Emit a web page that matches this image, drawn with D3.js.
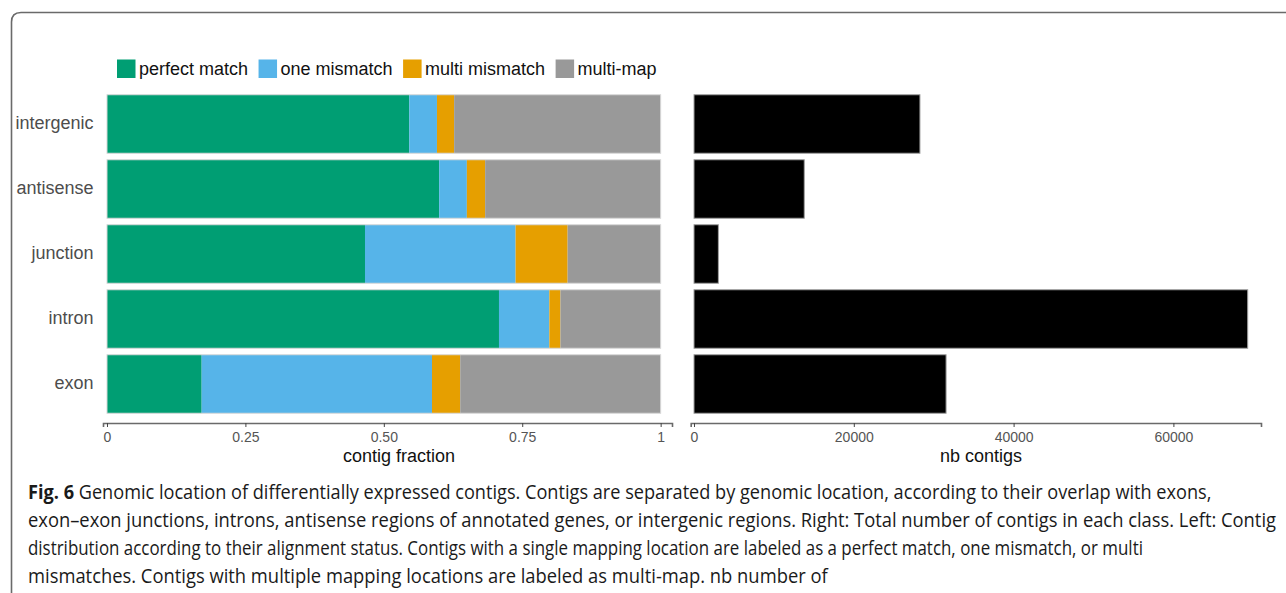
<!DOCTYPE html>
<html>
<head>
<meta charset="utf-8">
<script src="https://cdn.jsdelivr.net/npm/d3@7"></script>
<style>
  html, body { margin: 0; padding: 0; background: #fff; }
  svg { display: block; }
</style>
</head>
<body>
<svg id="chart" width="1286" height="593"></svg>
<script>
// ---------- data ----------
const categories = ["intergenic", "antisense", "junction", "intron", "exon"];
const statusKeys = ["perfect match", "one mismatch", "multi mismatch", "multi-map"];
const perfectMatch  = [0.546, 0.600, 0.466, 0.708, 0.171];
const oneMismatch   = [0.050, 0.050, 0.272, 0.091, 0.416];
const multiMismatch = [0.031, 0.033, 0.094, 0.020, 0.051];
const multiMap      = [0.373, 0.317, 0.168, 0.181, 0.362];
const nbContigs     = [28280, 13800, 3050, 69300, 31550];
const fractionTicks = [0, 0.25, 0.5, 0.75, 1];
const fractionTickLabels = ["0", "0.25", "0.50", "0.75", "1"];
const countTicks = [0, 20000, 40000, 60000];
const statusColors = ["#009E73", "#56B4E9", "#E69F00", "#999999"];
const captionBold = "Fig. 6";
const captionLines = [
  " Genomic location of differentially expressed contigs. Contigs are separated by genomic location, according to their overlap with exons,",
  "exon\u2013exon junctions, introns, antisense regions of annotated genes, or intergenic regions. Right: Total number of contigs in each class. Left: Contig",
  "distribution according to their alignment status. Contigs with a single mapping location are labeled as a perfect match, one mismatch, or multi",
  "mismatches. Contigs with multiple mapping locations are labeled as multi-map. nb number of"
];

// ---------- setup ----------
const svg = d3.select("#chart");
const FONT = "'Liberation Sans', Arial, Helvetica, sans-serif";

// border frame (figure box, open to the right/bottom)
svg.append("path")
  .attr("d", "M11.5,600 L11.5,22 Q11.5,12.5 21,12.5 L1300,12.5")
  .attr("fill", "none").attr("stroke", "#6a6a6a").attr("stroke-width", 1.6);

const rows = categories.map((c, i) => ({
  cat: c,
  "perfect match": perfectMatch[i],
  "one mismatch": oneMismatch[i],
  "multi mismatch": multiMismatch[i],
  "multi-map": multiMap[i],
  count: nbContigs[i]
}));

const y = d3.scaleBand().domain(categories).range([91.5, 416.5])
  .paddingInner(0.1).paddingOuter(0.05);

// left panel: contig fraction
const xL = d3.scaleLinear().domain([-0.0072, 1.0205]).range([103, 672]);
// right panel: nb contigs
const xR = d3.scaleLinear().domain([-413, 70964]).range([690.7, 1261]);

const color = d3.scaleOrdinal().domain(statusKeys).range(statusColors);
const stacked = d3.stack().keys(statusKeys)(rows);

const gL = svg.append("g");
gL.selectAll("g.layer").data(stacked).join("g").attr("class", "layer")
  .attr("fill", d => color(d.key))
  .selectAll("rect").data(d => d).join("rect")
  .attr("x", d => xL(d[0]))
  .attr("width", d => xL(d[1]) - xL(d[0]))
  .attr("y", d => y(d.data.cat))
  .attr("height", y.bandwidth());
// light outline around each stacked bar
gL.selectAll("rect.outline").data(rows).join("rect").attr("class", "outline")
  .attr("x", xL(0)).attr("width", xL(1) - xL(0))
  .attr("y", d => y(d.cat)).attr("height", y.bandwidth())
  .attr("fill", "none").attr("stroke", "#d8d8d8").attr("stroke-width", 1);

// right bars
svg.append("g").selectAll("rect").data(rows).join("rect")
  .attr("x", xR(0))
  .attr("width", d => xR(d.count) - xR(0))
  .attr("y", d => y(d.cat))
  .attr("height", y.bandwidth())
  .attr("fill", "#000").attr("stroke", "#a0a0a0").attr("stroke-width", 1);

// axes
const axisY = 423;
function styleAxis(g) {
  g.select(".domain").attr("stroke", "#6a6a6a").attr("stroke-width", 1.6);
  g.selectAll(".tick line").attr("stroke", "#444").attr("stroke-width", 1);
  g.selectAll(".tick text").attr("fill", "#555").attr("font-family", FONT)
    .attr("font-size", "14px").attr("dy", "0.85em");
}
svg.append("g").attr("transform", `translate(0,${axisY})`)
  .call(d3.axisBottom(xL).tickValues(fractionTicks)
    .tickFormat((d, i) => fractionTickLabels[i]).tickSizeOuter(0).tickSize(4).tickPadding(3))
  .call(styleAxis);
svg.append("g").attr("transform", `translate(0,${axisY})`)
  .call(d3.axisBottom(xR).tickValues(countTicks)
    .tickFormat(d3.format("d")).tickSizeOuter(0).tickSize(4).tickPadding(3))
  .call(styleAxis);

// y category labels
svg.append("g").selectAll("text").data(categories).join("text")
  .attr("x", 93.5)
  .attr("y", d => y(d) + y.bandwidth() / 2)
  .attr("dy", "0.28em")
  .attr("text-anchor", "end")
  .attr("font-family", FONT).attr("font-size", "18px").attr("fill", "#4d4d4d")
  .text(d => d);

// axis titles
svg.append("text").attr("x", 399).attr("y", 462)
  .attr("text-anchor", "middle").attr("font-family", FONT).attr("font-size", "18px")
  .attr("fill", "#111").text("contig fraction");
svg.append("text").attr("x", 981).attr("y", 462)
  .attr("text-anchor", "middle").attr("font-family", FONT).attr("font-size", "18px")
  .attr("fill", "#111").text("nb contigs");

// legend
const legend = svg.append("g");
let lx = 117;
statusKeys.forEach((k, i) => {
  legend.append("rect").attr("x", lx).attr("y", 59.5).attr("width", 18.5).attr("height", 18.5)
    .attr("fill", color(k));
  const t = legend.append("text").attr("x", lx + 22).attr("y", 69).attr("dy", "0.33em")
    .attr("font-family", FONT).attr("font-size", "18px").attr("fill", "#111").text(k);
  lx = lx + 22 + t.node().getComputedTextLength() + 10.5;
});

// caption (each line condensed horizontally to the reference's line width)
const capEnds = [1212, 1277, 1143, 828];
const capBase = [499, 527, 555, 583];
captionLines.forEach((line, i) => {
  const g = svg.append("g");
  const t = g.append("text")
    .attr("x", 0).attr("y", 0)
    .attr("font-family", "'Open Sans', 'Noto Sans', sans-serif")
    .attr("font-size", "19.5px").attr("fill", "#1a1a1a");
  if (i === 0) {
    t.append("tspan").attr("font-weight", "bold").text(captionBold);
  }
  t.append("tspan").text(line);
  const natural = t.node().getComputedTextLength();
  const sx = (capEnds[i] - 28) / natural;
  g.attr("transform", `translate(28,${capBase[i]}) scale(${sx},1)`);
});
</script>
</body>
</html>
